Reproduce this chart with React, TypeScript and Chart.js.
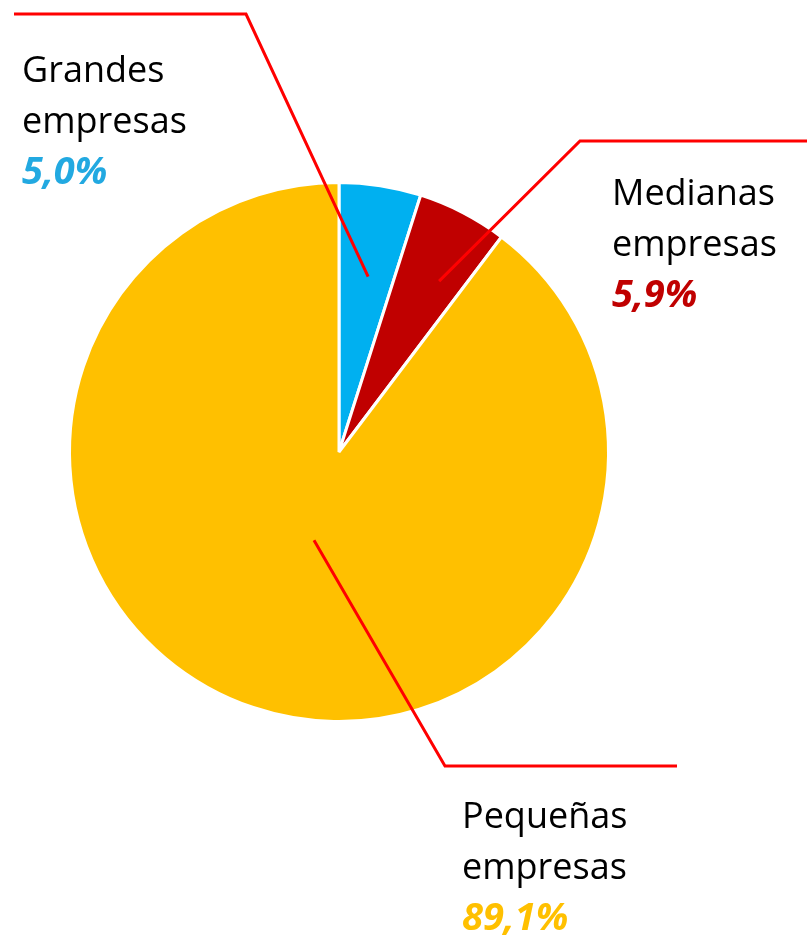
import React, { useEffect, useRef } from "react";
import { Chart, registerables } from "chart.js";

Chart.register(...registerables);

const categories = ["Grandes empresas", "Medianas empresas", "Pequeñas empresas"];
const labelLines = [["Grandes", "empresas"], ["Medianas", "empresas"], ["Pequeñas", "empresas"]];
// slice sizes as drawn in the picture
const sliceValues = [4.9, 5.4, 89.7];
// percentages as printed in the labels
const shareLabels = ["5,0%", "5,9%", "89,1%"];
const sliceColors = ["#00B0F0", "#C00000", "#FFC000"];
const textColors = ["#22A9E1", "#C00000", "#FFC000"];

// Layout of callouts (positions only)
const callouts = [
  { rFactor: 0.66, angleAdj: 0.6, elbow: [246, 14], end: [14, 14], textX: 22, baseY: 82 },
  { rFactor: 0.735, angleAdj: 3.0, elbow: [580, 141], end: [807, 141], textX: 612, baseY: 205 },
  { rFactor: 0.34, angleAdj: -2.7, elbow: [445, 766], end: [677, 766], textX: 462, baseY: 828 },
];

const FONT = '"Open Sans", "Noto Sans", sans-serif';

const calloutPlugin = {
  id: "callouts",
  afterDatasetsDraw(chart: any) {
    const ctx = chart.ctx;
    const meta = chart.getDatasetMeta(0);
    meta.data.forEach((arc: any, i: number) => {
      const c = callouts[i];
      const mid = (arc.startAngle + arc.endAngle) / 2 + (c.angleAdj * Math.PI) / 180;
      const r = arc.outerRadius * c.rFactor;
      const sx = arc.x + Math.cos(mid) * r;
      const sy = arc.y + Math.sin(mid) * r;
      ctx.save();
      ctx.strokeStyle = "#FF0000";
      ctx.lineWidth = 3;
      ctx.lineJoin = "miter";
      ctx.beginPath();
      ctx.moveTo(sx, sy);
      ctx.lineTo(c.elbow[0], c.elbow[1]);
      ctx.lineTo(c.end[0], c.end[1]);
      ctx.stroke();

      ctx.textAlign = "left";
      ctx.textBaseline = "alphabetic";
      ctx.fillStyle = "#000000";
      ctx.font = `36px ${FONT}`;
      labelLines[i].forEach((t, k) => {
        ctx.fillText(t, c.textX, c.baseY + k * 51);
      });
      ctx.fillStyle = textColors[i];
      ctx.font = `italic bold 38px ${FONT}`;
      ctx.fillText(shareLabels[i], c.textX, c.baseY + 2 * 51);
      ctx.restore();
    });
  },
};

export default function App() {
  const ref = useRef<HTMLCanvasElement | null>(null);
  useEffect(() => {
    document.body.style.margin = "0";
    const chart = new Chart(ref.current as HTMLCanvasElement, {
      type: "pie",
      data: {
        labels: categories,
        datasets: [
          {
            data: sliceValues,
            backgroundColor: sliceColors,
            borderColor: "#FFFFFF",
            borderWidth: 3,
          },
        ],
      },
      options: {
        animation: false,
        responsive: false,
        maintainAspectRatio: false,
        layout: { padding: { left: 68, right: 197, top: 181, bottom: 216 } },
        plugins: {
          legend: { display: false },
          tooltip: { enabled: false },
        },
      },
      plugins: [calloutPlugin],
    });
    return () => chart.destroy();
  }, []);
  return (
    <div style={{ width: 807, height: 939, background: "#fff" }}>
      <canvas ref={ref} width={807} height={939} style={{ display: "block" }} />
    </div>
  );
}
